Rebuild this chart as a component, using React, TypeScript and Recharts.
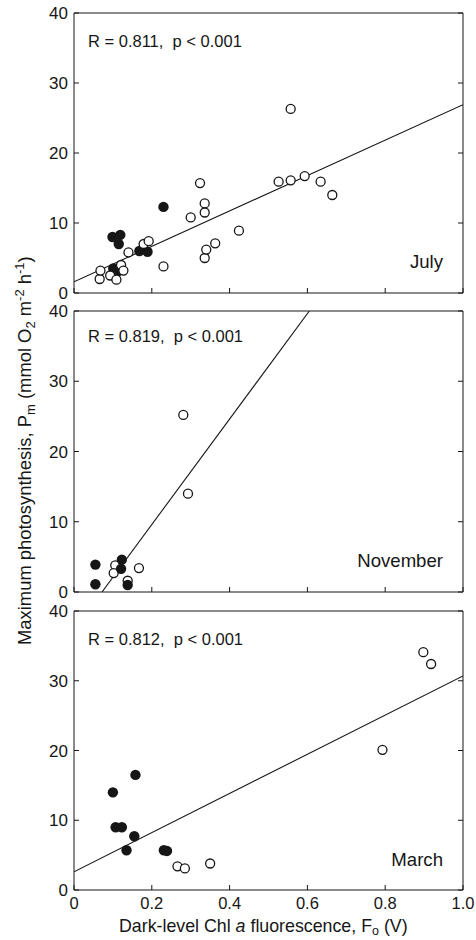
import React from 'react';
import { ScatterChart, Scatter, XAxis, YAxis, ReferenceLine } from 'recharts';

// ---- tick values ----
const xTicks = [0, 0.2, 0.4, 0.6, 0.8, 1.0];
const yTicks = [0, 10, 20, 30, 40];

// ---- July ----
const julyOpen: [number, number][] = [
  [0.066, 2.0], [0.068, 3.2], [0.093, 2.5], [0.109, 1.9], [0.121, 4.0], [0.127, 3.2],
  [0.140, 5.8], [0.179, 7.0], [0.192, 7.4], [0.230, 3.8], [0.300, 10.8], [0.324, 15.7],
  [0.336, 12.8], [0.336, 11.5], [0.336, 5.0], [0.340, 6.2], [0.363, 7.1], [0.424, 8.9],
  [0.526, 15.9], [0.557, 16.1], [0.557, 26.3], [0.593, 16.7], [0.634, 15.9], [0.664, 14.0],
];
const julyFilled: [number, number][] = [
  [0.099, 8.0], [0.119, 8.3], [0.115, 7.0], [0.101, 3.5], [0.109, 2.9],
  [0.168, 6.0], [0.189, 5.9], [0.230, 12.3],
];
const julyFit: [number, number][] = [[0, 1.6], [1.0, 26.9]];

// ---- November ----
const novOpen: [number, number][] = [
  [0.281, 25.2], [0.293, 14.0], [0.106, 3.8], [0.102, 2.7], [0.167, 3.4], [0.138, 1.6],
];
const novFilled: [number, number][] = [
  [0.055, 3.9], [0.055, 1.1], [0.123, 4.6], [0.121, 3.3], [0.138, 1.0],
];
const novFit: [number, number][] = [[0.072, 0], [0.605, 40]];

// ---- March ----
const marOpen: [number, number][] = [
  [0.266, 3.4], [0.285, 3.1], [0.350, 3.8], [0.793, 20.1], [0.898, 34.1], [0.918, 32.4],
];
const marFilled: [number, number][] = [
  [0.100, 14.0], [0.158, 16.5], [0.107, 9.0], [0.123, 9.0], [0.155, 7.7],
  [0.135, 5.7], [0.231, 5.7], [0.239, 5.6],
];
const marFit: [number, number][] = [[0, 2.6], [1.0, 30.7]];

const stats = ['R = 0.811,  p < 0.001', 'R = 0.819,  p < 0.001', 'R = 0.812,  p < 0.001'];
const months = ['July', 'November', 'March'];

const INK = '#161616';
const FONT = 'Arial, "Liberation Sans", sans-serif';

const toPts = (a: [number, number][]) => a.map(([x, y]) => ({ x, y }));
const fmtX = (v: number) => (v === 0 ? '0' : v.toFixed(1));
const blank = () => '';

const OpenDot = (p: any) => (
  <circle cx={p.cx} cy={p.cy} r={4.5} fill="#fff" stroke={INK} strokeWidth={1.3} />
);
const FilledDot = (p: any) => (
  <circle cx={p.cx} cy={p.cy} r={5.2} fill={INK} stroke="none" />
);

type PanelProps = {
  top: number;
  height: number;
  mTop: number;
  mBottom: number;
  labels: boolean;
  open: [number, number][];
  filled: [number, number][];
  fit: [number, number][];
  openFirst: boolean;
};

function Panel({ top, height, mTop, mBottom, labels, open, filled, fit, openFirst }: PanelProps) {
  const axisLine = { stroke: INK, strokeWidth: 1 };
  const tickLine = { stroke: INK, strokeWidth: 1 };
  const yTickStyle = { fontSize: 17, fill: INK, fontFamily: FONT };
  const xTickStyle = { fontSize: 16.5, fill: INK, fontFamily: FONT };
  const openS = (
    <Scatter key="o" data={toPts(open)} shape={OpenDot} isAnimationActive={false} />
  );
  const filledS = (
    <Scatter key="f" data={toPts(filled)} shape={FilledDot} isAnimationActive={false} />
  );
  return (
    <div style={{ position: 'absolute', left: 0, top, width: 476, height }}>
      <ScatterChart width={476} height={height} margin={{ top: mTop, right: 12, bottom: mBottom, left: 0 }}>
        <XAxis
          dataKey="x"
          type="number"
          domain={[0, 1]}
          ticks={xTicks}
          interval={0}
          allowDataOverflow
          height={labels ? 40 : 1}
          tickSize={-5}
          tickMargin={labels ? 12 : 0}
          tickFormatter={labels ? fmtX : blank}
          axisLine={axisLine}
          tickLine={tickLine}
          tick={xTickStyle}
        />
        <XAxis
          xAxisId="top"
          orientation="top"
          type="number"
          domain={[0, 1]}
          ticks={xTicks}
          interval={0}
          allowDataOverflow
          height={1}
          tickSize={-5}
          tickFormatter={blank}
          axisLine={axisLine}
          tickLine={tickLine}
          tick={xTickStyle}
        />
        <YAxis
          dataKey="y"
          type="number"
          domain={[0, 40]}
          ticks={yTicks}
          interval={0}
          allowDataOverflow
          width={74}
          tickSize={-5}
          tickMargin={11}
          axisLine={axisLine}
          tickLine={tickLine}
          tick={yTickStyle}
        />
        <YAxis
          yAxisId="right"
          orientation="right"
          type="number"
          domain={[0, 40]}
          ticks={yTicks}
          interval={0}
          allowDataOverflow
          width={1}
          tickSize={-5}
          tickFormatter={blank}
          axisLine={axisLine}
          tickLine={tickLine}
          tick={yTickStyle}
        />
        <ReferenceLine
          segment={[{ x: fit[0][0], y: fit[0][1] }, { x: fit[1][0], y: fit[1][1] }]}
          stroke={INK}
          strokeWidth={1.1}
          ifOverflow="hidden"
        />
        {openFirst ? [openS, filledS] : [filledS, openS]}
      </ScatterChart>
    </div>
  );
}

export default function App() {
  const statY = [47, 342, 645];
  const monthY = [268, 567, 866];
  return (
    <div style={{ position: 'absolute', left: 0, top: 0, width: 476, height: 940, background: '#fff', fontFamily: FONT }}>
      <Panel top={0} height={308} mTop={12} mBottom={14} labels={false} open={julyOpen} filled={julyFilled} fit={julyFit} openFirst={false} />
      <Panel top={300} height={308} mTop={10} mBottom={15} labels={false} open={novOpen} filled={novFilled} fit={novFit} openFirst={true} />
      <Panel top={600} height={330} mTop={10} mBottom={0} labels={true} open={marOpen} filled={marFilled} fit={marFit} openFirst={true} />
      <svg width={476} height={940} style={{ position: 'absolute', left: 0, top: 0, pointerEvents: 'none' }}>
        <g fill={INK} fontFamily={FONT}>
          {stats.map((s, i) => (
            <text key={s} x={88} y={statY[i]} fontSize={16.5} style={{ whiteSpace: 'pre' }}>{s}</text>
          ))}
          {months.map((m, i) => (
            <text key={m} x={443} y={monthY[i]} fontSize={18.6} textAnchor="end">{m}</text>
          ))}
          <text x={119} y={932} fontSize={17.8}>
            Dark-level Chl <tspan fontStyle="italic">a</tspan> fluorescence, F<tspan fontSize={12.5} dy={3}>o</tspan><tspan dy={-3}> (V)</tspan>
          </text>
          <text transform="translate(31,645) rotate(-90)" fontSize={18.4}>
            Maximum photosynthesis, P<tspan fontSize={13} dy={4}>m</tspan>
            <tspan dy={-4}> (mmol O</tspan><tspan fontSize={13} dy={4}>2</tspan>
            <tspan dy={-4}> m</tspan><tspan fontSize={13} dy={-7}>-2</tspan>
            <tspan dy={7}> h</tspan><tspan fontSize={13} dy={-7}>-1</tspan>
            <tspan dy={7}>)</tspan>
          </text>
        </g>
      </svg>
    </div>
  );
}
